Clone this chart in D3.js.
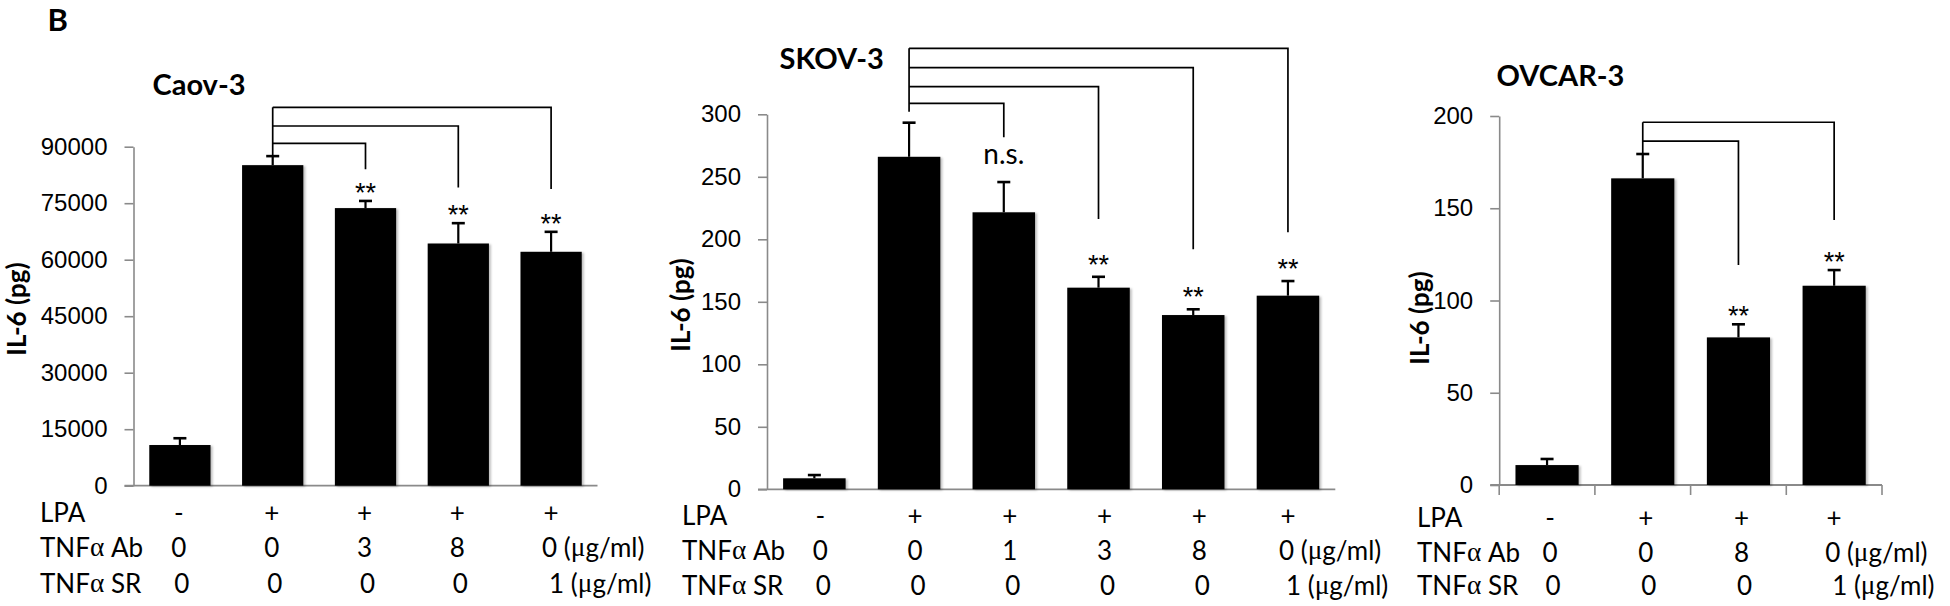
<!DOCTYPE html>
<html>
<head>
<meta charset="utf-8">
<script src="https://cdn.jsdelivr.net/npm/d3@7"></script>
<style>
  html, body { margin: 0; padding: 0; background: #fff; }
  svg { display: block; font-family: Lato, "Open Sans", "DejaVu Sans", sans-serif; }
</style>
</head>
<body>
<svg id="chart" width="1950" height="606"></svg>
<script>
// ---------- DATA ----------
const lpaCaov   = ["-", "+", "+", "+", "+"];
const abCaov    = ["0", "0", "3", "8", "0"];
const srCaov    = ["0", "0", "0", "0", "1"];
const meanCaov  = [10800, 85100, 73700, 64300, 62100];
const errCaov   = [1800, 2400, 1900, 5400, 5300];
const sigCaov   = ["", "", "**", "**", "**"];
const ticksCaov = [0, 15000, 30000, 45000, 60000, 75000, 90000];

const lpaSkov   = ["-", "+", "+", "+", "+", "+"];
const abSkov    = ["0", "0", "1", "3", "8", "0"];
const srSkov    = ["0", "0", "0", "0", "0", "1"];
const meanSkov  = [8.8, 266, 221.6, 161.3, 139.4, 154.9];
const errSkov   = [2.6, 27.3, 24.2, 8.7, 4.6, 11.7];
const sigSkov   = ["", "", "n.s.", "**", "**", "**"];
const ticksSkov = [0, 50, 100, 150, 200, 250, 300];

const lpaOvcar   = ["-", "+", "+", "+"];
const abOvcar    = ["0", "0", "8", "0"];
const srOvcar    = ["0", "0", "0", "1"];
const meanOvcar  = [10.8, 166.2, 80, 108];
const errOvcar   = [3.3, 13.2, 7.1, 8.5];
const sigOvcar   = ["", "", "**", "**"];
const ticksOvcar = [0, 50, 100, 150, 200];

const rowLabels = ["LPA", "TNF\u03b1 Ab", "TNF\u03b1 SR"];
const unitText = " (\u03bcg/ml)";

// ---------- LAYOUT ----------
const panels = [
  { title: "Caov-3", lpa: lpaCaov, ab: abCaov, sr: srCaov, mean: meanCaov, err: errCaov, sig: sigCaov,
    ticks: ticksCaov, yMax: 90000,
    x0: 133.5, x1: 597.5, yTop: 146.7, yBot: 485.7,
    titleX: 152.5, titleY: 95, ylabX: 15.5, ylabY: 309,
    rowX: 40, rowY: [511.7, 546.7, 582.7], colOff: -1, xTicks: false, sigOff: 1,
    stemBottom: 87530,
    brackets: [ {to: 2, level: 90900, drop: 84000}, {to: 3, level: 95500, drop: 79200}, {to: 4, level: 100460, drop: 78800} ] },
  { title: "SKOV-3", lpa: lpaSkov, ab: abSkov, sr: srSkov, mean: meanSkov, err: errSkov, sig: sigSkov,
    ticks: ticksSkov, yMax: 300,
    x0: 767, x1: 1335.3, yTop: 114.3, yBot: 489.3,
    titleX: 779.5, titleY: 69, ylabX: 680, ylabY: 305,
    rowX: 682, rowY: [515, 550, 585], colOff: 6, xTicks: false, sigOff: -3,
    stemBottom: 302,
    brackets: [ {to: 2, level: 308.8, drop: 281.6}, {to: 3, level: 322.1, drop: 216.2}, {to: 4, level: 337.3, drop: 192}, {to: 5, level: 352.8, drop: 205.6} ] },
  { title: "OVCAR-3", lpa: lpaOvcar, ab: abOvcar, sr: srOvcar, mean: meanOvcar, err: errOvcar, sig: sigOvcar,
    ticks: ticksOvcar, yMax: 200,
    x0: 1499.2, x1: 1882, yTop: 116, yBot: 485,
    titleX: 1496.6, titleY: 86, ylabX: 1419, ylabY: 318,
    rowX: 1417, rowY: [516.7, 551.7, 585], colOff: 3, xTicks: true, sigOff: 1,
    stemBottom: 179.4,
    brackets: [ {to: 2, level: 186.4, drop: 119.2}, {to: 3, level: 196.6, drop: 143.6} ] }
];

const svg = d3.select("#chart");
const axisColor = "#8a8a8a";

const defs = svg.append("defs");
const f = defs.append("filter").attr("id", "shadow").attr("x", "-10%").attr("y", "-10%").attr("width", "130%").attr("height", "130%");
f.append("feDropShadow").attr("dx", 2).attr("dy", 1).attr("stdDeviation", 1.2)
  .attr("flood-color", "#000").attr("flood-opacity", 0.25);

// Panel letter
svg.append("text").attr("x", 47.5).attr("y", 30.7)
  .attr("font-size", 31).attr("font-weight", "bold").text("B");

function addGreek(sel, str) {
  const parts = str.split(/([\u03b1\u03bc])/);
  parts.forEach(p => {
    if (!p) return;
    const t = sel.append("tspan").text(p);
    if (p === "\u03b1" || p === "\u03bc") t.attr("font-family", "'Liberation Serif', 'DejaVu Serif', serif").attr("font-size", "1.05em");
  });
}

panels.forEach(P => {
  const n = P.mean.length;
  const x = d3.scaleBand().domain(d3.range(n)).range([P.x0, P.x1]).paddingInner(0.34).paddingOuter(0.17);
  const y = d3.scaleLinear().domain([0, P.yMax]).range([P.yBot, P.yTop]);
  const cx = i => x(i) + x.bandwidth() / 2;
  const g = svg.append("g");

  // y axis
  const ax = g.append("g").attr("transform", `translate(${P.x0},0)`)
    .call(d3.axisLeft(y).tickValues(P.ticks).tickSize(9).tickSizeOuter(0).tickPadding(17).tickFormat(d => String(d)));
  ax.select(".domain").attr("stroke", axisColor).attr("stroke-width", 1.6);
  ax.selectAll(".tick line").attr("stroke", axisColor).attr("stroke-width", 1.6);
  ax.selectAll(".tick text").attr("font-size", 24).attr("fill", "#000").attr("font-family", null);

  // x axis line
  g.append("line").attr("x1", P.x0 - 9).attr("x2", P.x1).attr("y1", y(0)).attr("y2", y(0))
    .attr("stroke", axisColor).attr("stroke-width", 1.8);
  if (P.xTicks) {
    const step = x.step();
    g.selectAll(".xt").data(d3.range(n + 1)).join("line")
      .attr("x1", i => P.x0 + i * step).attr("x2", i => P.x0 + i * step)
      .attr("y1", y(0)).attr("y2", y(0) + 10)
      .attr("stroke", axisColor).attr("stroke-width", 1.6);
  }

  // bars
  g.selectAll(".bar").data(P.mean).join("rect")
    .attr("x", (d, i) => x(i)).attr("width", x.bandwidth())
    .attr("y", d => y(d)).attr("height", d => y(0) - y(d))
    .attr("fill", "#000").attr("filter", "url(#shadow)");

  // error bars
  P.mean.forEach((m, i) => {
    const top = y(m + P.err[i]);
    g.append("line").attr("x1", cx(i)).attr("x2", cx(i)).attr("y1", y(m)).attr("y2", top)
      .attr("stroke", "#000").attr("stroke-width", 2.2);
    g.append("line").attr("x1", cx(i) - 6.5).attr("x2", cx(i) + 6.5).attr("y1", top).attr("y2", top)
      .attr("stroke", "#000").attr("stroke-width", 2.6);
  });

  // significance brackets
  const sx = cx(1);
  const maxLevel = d3.max(P.brackets, b => b.level);
  g.append("line").attr("x1", sx).attr("x2", sx).attr("y1", y(maxLevel)).attr("y2", y(P.stemBottom))
    .attr("stroke", "#000").attr("stroke-width", 1.7);
  P.brackets.forEach(b => {
    g.append("path")
      .attr("d", `M${sx},${y(b.level)}H${cx(b.to)}V${y(b.drop)}`)
      .attr("fill", "none").attr("stroke", "#000").attr("stroke-width", 1.7);
  });

  // significance labels
  P.sig.forEach((s, i) => {
    if (!s) return;
    const top = y(P.mean[i] + P.err[i]);
    if (s === "n.s.") {
      g.append("text").attr("x", cx(i)).attr("y", top - 18).attr("text-anchor", "middle")
        .attr("font-size", 28).text(s);
    } else {
      g.append("text").attr("x", cx(i)).attr("y", top + P.sigOff).attr("text-anchor", "middle")
        .attr("font-family", "'Liberation Sans', Arial, sans-serif")
        .attr("font-size", 27).text(s);
    }
  });

  // title
  g.append("text").attr("x", P.titleX).attr("y", P.titleY)
    .attr("font-size", 29).attr("font-weight", "bold").text(P.title);

  // y label
  g.append("text").attr("transform", `translate(${P.ylabX},${P.ylabY}) rotate(-90)`)
    .attr("text-anchor", "middle").attr("dominant-baseline", "central")
    .attr("font-size", 26).attr("font-weight", "bold").text("IL-6 (pg)");

  // condition rows
  const rows = [P.lpa, P.ab, P.sr];
  rows.forEach((vals, r) => {
    const lab = g.append("text").attr("x", P.rowX).attr("y", P.rowY[r])
      .attr("dominant-baseline", "central").attr("font-size", 26);
    addGreek(lab, rowLabels[r]);
    vals.forEach((v, i) => {
      const last = i === n - 1;
      const colX = cx(i) + (last ? 0 : P.colOff) + (r === 2 ? 3 : 0);
      const t = g.append("text").attr("y", P.rowY[r]).attr("dominant-baseline", "central").attr("font-size", 26);
      if (r > 0 && last) {
        t.attr("x", colX - (r === 1 ? 9 : 5)).attr("text-anchor", "start");
        addGreek(t, v + unitText);
      } else {
        t.attr("x", colX).attr("text-anchor", "middle").text(v);
      }
    });
  });
});
</script>
</body>
</html>
